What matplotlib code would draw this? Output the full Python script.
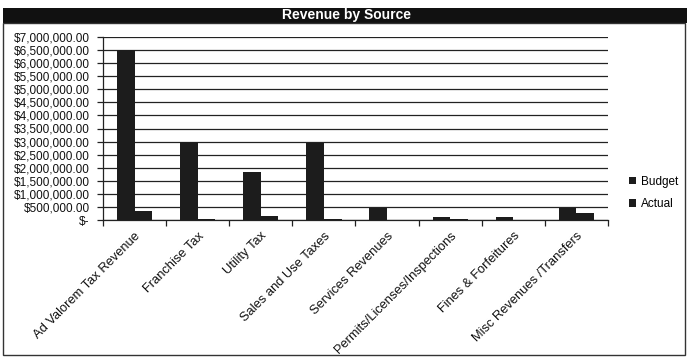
import matplotlib
matplotlib.use("Agg")
import matplotlib.pyplot as plt
from matplotlib.patches import Rectangle
import numpy as np

categories = ["Ad Valorem Tax Revenue", "Franchise Tax", "Utility Tax", "Sales and Use Taxes",
              "Services Revenues", "Permits/Licenses/Inspections", "Fines & Forfeitures",
              "Misc Revenues /Transfers"]
budget = [6500000, 2980000, 1850000, 2960000, 450000, 120000, 130000, 450000]
actual = [350000, 40000, 150000, 40000, 10000, 50000, 5000, 250000]
ytick_values = list(range(0, 7000001, 500000))
ytick_labels = ["$-"] + ["${:,.2f}".format(v) for v in ytick_values[1:]]
title = "Revenue by Source"
series_names = ["Budget", "Actual"]

plt.rcParams['font.family'] = ['Liberation Sans', 'DejaVu Sans']

W, H = 687, 358
fig = plt.figure(figsize=(W / 100, H / 100), dpi=100)
fig.patch.set_facecolor("white")

# title bar and frame
fig.patches.append(Rectangle((3 / W, 1 - 23 / H), (W - 3) / W, 15 / H, transform=fig.transFigure,
                             facecolor="#111111", edgecolor="none", zorder=0))
fig.patches.append(Rectangle((3 / W, 1 - 355 / H), (685 - 3) / W, (355 - 23) / H, transform=fig.transFigure,
                             facecolor="none", edgecolor="#333333", linewidth=1.0, zorder=0))
fig.text(347 / W, 1 - 15.5 / H, title, color="white", fontsize=10, fontweight="bold",
         ha="center", va="center")

ax = fig.add_axes([103 / W, 1 - 220 / H, (608 - 103) / W, (220 - 37) / H])
x = np.arange(len(categories))
w = 0.28
b1 = ax.bar(x - w / 2, budget, w, color="#1c1c1c", label=series_names[0], zorder=3)
b2 = ax.bar(x + w / 2, actual, w, color="#1c1c1c", label=series_names[1], zorder=3)

ax.set_xlim(-0.5, len(categories) - 0.5)
ax.set_ylim(0, 7000000)
ax.set_yticks(ytick_values)
ax.set_yticklabels(ytick_labels, fontsize=8.5, color="#111111")
ax.yaxis.grid(True, color="#222222", linewidth=0.9, zorder=0)
ax.set_axisbelow(True)

ax.set_xticks(x)
ax.set_xticklabels(categories, rotation=45, ha="right", rotation_mode="anchor", fontsize=9.3,
                   color="#111111")
ax.tick_params(axis="x", length=0, pad=7)
ax.set_xticks(np.arange(-0.5, len(categories), 1.0), minor=True)
ax.tick_params(axis="x", which="minor", length=4, color="#222222", width=0.9)
ax.tick_params(axis="y", length=4, color="#222222", width=0.9, pad=5.5)

for s in ["top", "right"]:
    ax.spines[s].set_visible(False)
for s in ["left", "bottom"]:
    ax.spines[s].set_color("#222222")
    ax.spines[s].set_linewidth(0.9)

fig.legend([b1, b2], series_names, loc="upper left", bbox_to_anchor=(618 / W, 1 - 165 / H),
           frameon=False, fontsize=8.5, handlelength=0.65, handleheight=0.65, handletextpad=0.4,
           labelspacing=0.9)

fig.savefig("out.png", dpi=100)
